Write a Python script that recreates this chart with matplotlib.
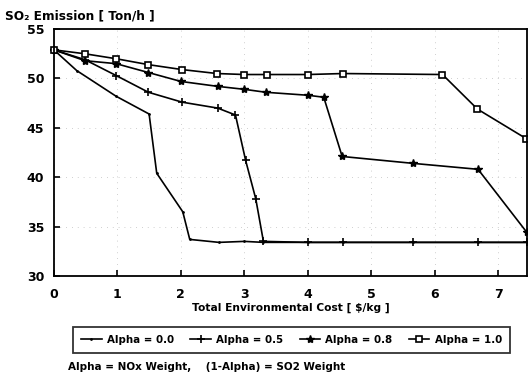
import matplotlib.pyplot as plt

plt.rcParams['font.family'] = ['DejaVu Sans']
plt.rcParams['font.weight'] = 'bold'

# Alpha = 0.0
x_a00 = [0, 0.36, 0.98, 1.5, 1.62, 2.03, 2.14, 2.6, 3.0, 3.3, 4.0, 4.55, 5.65, 6.68, 7.45]
y_a00 = [52.9, 50.8, 48.2, 46.4, 40.4, 36.5, 33.7, 33.4, 33.5, 33.4, 33.4, 33.4, 33.4, 33.4, 33.4]
# Alpha = 0.5
x_a05 = [0, 0.49, 0.98, 1.49, 2.02, 2.58, 2.86, 3.02, 3.18, 3.3, 4.0, 4.55, 5.65, 6.68, 7.45]
y_a05 = [52.9, 51.9, 50.3, 48.6, 47.6, 47.0, 46.3, 41.7, 37.8, 33.5, 33.4, 33.4, 33.4, 33.4, 33.4]
# Alpha = 0.8
x_a08 = [0, 0.49, 0.98, 1.49, 2.0, 2.58, 3.0, 3.34, 4.0, 4.25, 4.54, 5.66, 6.68, 7.45]
y_a08 = [52.9, 51.8, 51.5, 50.6, 49.7, 49.2, 48.9, 48.6, 48.3, 48.1, 42.1, 41.4, 40.8, 34.4]
# Alpha = 1.0
x_a10 = [0, 0.49, 0.98, 1.49, 2.02, 2.57, 3.0, 3.36, 4.0, 4.55, 6.12, 6.67, 7.44]
y_a10 = [52.9, 52.5, 52.0, 51.4, 50.9, 50.5, 50.4, 50.4, 50.4, 50.5, 50.4, 46.9, 43.9]

fig = plt.figure(figsize=(5.28, 3.78), dpi=100)
ax = fig.add_axes([0.102, 0.27, 0.896, 0.653])

ax.plot(x_a00, y_a00, color="black", lw=1.2, marker=".", ms=2, label="Alpha = 0.0", clip_on=False)
ax.plot(x_a05, y_a05, color="black", lw=1.2, marker="+", ms=6, mew=1.2, label="Alpha = 0.5", clip_on=False)
ax.plot(x_a08, y_a08, color="black", lw=1.2, marker="*", ms=6, label="Alpha = 0.8", clip_on=False)
ax.plot(x_a10, y_a10, color="black", lw=1.2, marker="s", ms=4.5, mfc="white", mew=1.2,
        label="Alpha = 1.0", clip_on=False)

ax.set_xlim(0, 7.45)
ax.set_ylim(30, 55)
ax.set_xticks(range(0, 8))
ax.set_yticks(range(30, 56, 5))
ax.tick_params(direction="in", length=4, width=1.2, labelsize=9)
ax.tick_params(axis="x", pad=9)
ax.tick_params(axis="y", pad=7)
for s in ax.spines.values():
    s.set_linewidth(1.3)
ax.grid(True, color="0.75", ls=(0, (1, 6)), lw=0.6)

fig.text(0.01, 0.975, "SO₂ Emission [ Ton/h ]", fontsize=8.7, fontweight="bold", va="top")
ax.set_xlabel("Total Environmental Cost [ $/kg ]", fontsize=7.7, fontweight="bold", labelpad=1)

leg = fig.legend(loc="center", bbox_to_anchor=(0.552, 0.101), ncol=4, fontsize=7.4,
                 frameon=True, fancybox=False, edgecolor="black", handlelength=2.0,
                 handletextpad=0.5, columnspacing=1.6, borderpad=0.75)
leg.get_frame().set_linewidth(1.3)

fig.text(0.128, 0.022, "Alpha = NOx Weight,    (1-Alpha) = SO2 Weight", fontsize=7.5, fontweight="bold")

fig.savefig("out.png", dpi=100)
